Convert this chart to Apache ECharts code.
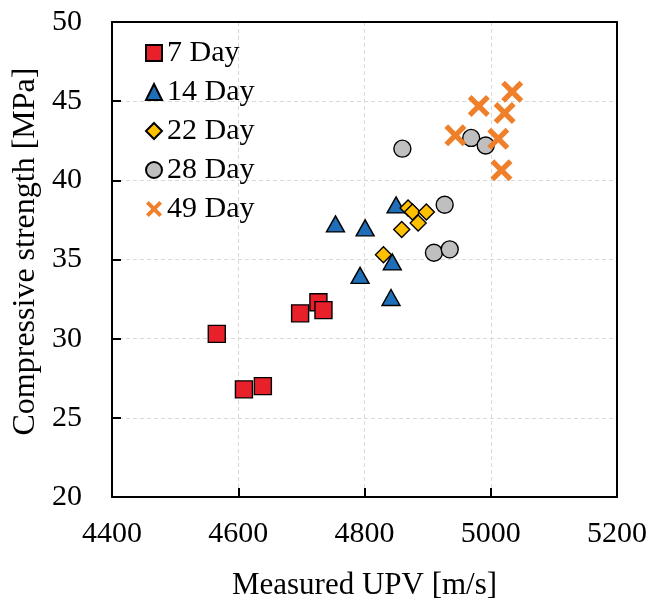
<!DOCTYPE html>
<html>
<head>
<meta charset="utf-8">
<script src="https://cdn.jsdelivr.net/npm/echarts@6/dist/echarts.min.js"></script>
<style>html,body{margin:0;padding:0;background:#fff}#c{width:649px;height:602px}</style>
</head>
<body>
<div id="c"></div>
<script>
var seriesNames = ['7 Day', '14 Day', '22 Day', '28 Day', '49 Day'];
var day7 = [[4566, 30.3], [4609, 26.8], [4639, 27.0], [4698, 31.6], [4727, 32.3], [4735, 31.8]];
var day14 = [[4850, 38.45], [4754, 37.25], [4801, 37.0], [4844, 34.85], [4793, 34.0], [4842, 32.6]];
var day22 = [[4869, 38.25], [4876, 38.0], [4898, 38.0], [4885, 37.3], [4859, 36.9], [4830, 35.3]];
var day28 = [[4860, 42.0], [4969, 42.68], [4992, 42.2], [4927, 38.46], [4910, 35.43], [4935, 35.64]];
var day49 = [[5034, 45.6], [4981, 44.7], [5022, 44.25], [4944, 42.84], [5012, 42.63], [5017, 40.63]];
var xTicks = [4400, 4600, 4800, 5000, 5200];
var yTicks = [20, 25, 30, 35, 40, 45, 50];

var FONT = 'Liberation Serif';
var crossPath = 'path://M0,1.7L1.7,0L5,3.3L8.3,0L10,1.7L6.7,5L10,8.3L8.3,10L5,6.7L1.7,10L0,8.3L3.3,5Z';

var chart = echarts.init(document.getElementById('c'), null, {renderer: 'canvas'});
function mk(name, data, symbol, size, color, border) {
  return {
    name: name, type: 'scatter', data: data, symbol: symbol, symbolSize: size,
    itemStyle: {color: color, borderColor: border ? '#000' : color, borderWidth: border ? 1.4 : 0, opacity: 1},
    emphasis: {disabled: true}
  };
}
var xMin = xTicks[0], xMax = xTicks[xTicks.length - 1];
var yMin = yTicks[0], yMax = yTicks[yTicks.length - 1];
chart.setOption({
  animation: false,
  backgroundColor: '#fff',
  grid: {left: 112, right: 32, top: 22, bottom: 105, show: false, containLabel: false, outerBoundsMode: 'none'},
  legend: {
    orient: 'vertical', left: 145, top: 38, padding: 0, itemGap: 9,
    itemWidth: 16, itemHeight: 16,
    data: seriesNames,
    textStyle: {fontFamily: FONT, fontSize: 30, color: '#000', padding: [0, 0, 0, 0]}
  },
  xAxis: [{
    type: 'value', min: xMin, max: xMax, interval: 200,
    name: 'Measured UPV [m/s]', nameLocation: 'middle', nameGap: 73,
    nameTextStyle: {fontFamily: FONT, fontSize: 31, color: '#000'},
    axisLine: {show: true, lineStyle: {color: '#000', width: 2}},
    axisTick: {show: true, inside: true, length: 9, lineStyle: {color: '#000', width: 2}},
    axisLabel: {fontFamily: FONT, fontSize: 30, color: '#000', margin: 22, formatter: function (v) { return String(v); }},
    splitLine: {show: true, showMinLine: false, showMaxLine: false, lineStyle: {color: '#d9d9d9', type: [4, 3], width: 1}}
  }, {
    type: 'value', position: 'top', min: xMin, max: xMax, interval: 200,
    axisLine: {show: true, onZero: false, lineStyle: {color: '#000', width: 2}},
    axisTick: {show: false}, axisLabel: {show: false}, splitLine: {show: false}
  }],
  yAxis: [{
    type: 'value', min: yMin, max: yMax, interval: 5,
    name: 'Compressive strength [MPa]', nameLocation: 'middle', nameGap: 66,
    nameTextStyle: {fontFamily: FONT, fontSize: 32, color: '#000', padding: [0, 0, 0, 16]},
    axisLine: {show: true, lineStyle: {color: '#000', width: 2}},
    axisTick: {show: true, inside: true, length: 9, lineStyle: {color: '#000', width: 2}},
    axisLabel: {fontFamily: FONT, fontSize: 30, color: '#000', margin: 30, formatter: function (v) { return String(v); }},
    splitLine: {show: true, showMinLine: false, showMaxLine: false, lineStyle: {color: '#d9d9d9', type: [4, 3], width: 1}}
  }, {
    type: 'value', position: 'right', min: yMin, max: yMax, interval: 5,
    axisLine: {show: true, onZero: false, lineStyle: {color: '#000', width: 2}},
    axisTick: {show: false}, axisLabel: {show: false}, splitLine: {show: false}
  }],
  series: [
    mk(seriesNames[0], day7, 'rect', 17, '#E8202A', true),
    mk(seriesNames[1], day14, 'triangle', [18, 16], '#1F6EB7', true),
    mk(seriesNames[2], day22, 'diamond', 16, '#FFC000', true),
    mk(seriesNames[3], day28, 'circle', 17, '#BFBFBF', true),
    mk(seriesNames[4], day49, crossPath, 22, '#F07F2A', false)
  ]
});
</script>
</body>
</html>
